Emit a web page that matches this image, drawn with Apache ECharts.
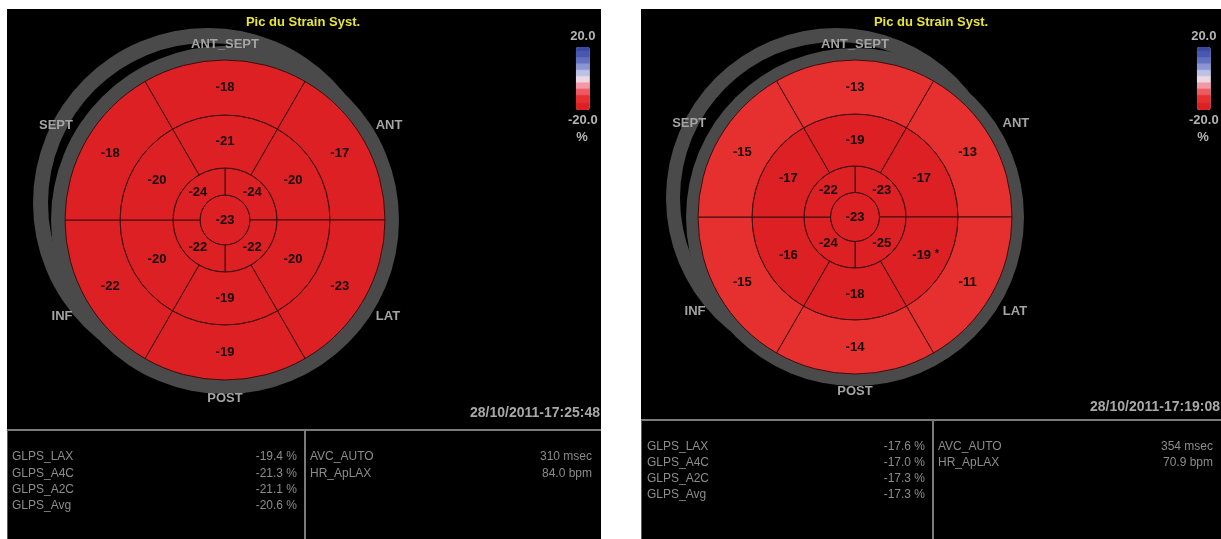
<!DOCTYPE html>
<html>
<head>
<meta charset="utf-8">
<script src="https://cdn.jsdelivr.net/npm/echarts@6/dist/echarts.min.js"></script>
<style>
  html, body { margin: 0; padding: 0; background: #fff; }
  #chart { width: 1221px; height: 539px; }
</style>
</head>
<body>
<div id="chart"></div>
<script>
// bull's eye rings: apex, apical, mid, basal (radius axis units)
var ringRadii = [0, 25, 52, 105, 160];
var ringSegments = [1, 4, 6, 6];
var ringFirstCenter = [90, 45, 90, 90];   // angle of first segment centre, then clockwise

var wallNames = ['ANT_SEPT', 'ANT', 'LAT', 'POST', 'INF', 'SEPT'];

// left exam, 28/10/2011-17:25:48
var leftApex = [-23];
var leftApical = [-24, -22, -22, -24];          // upper-right, lower-right, lower-left, upper-left
var leftMid = [-21, -20, -20, -19, -20, -20];   // ANT_SEPT, ANT, LAT, POST, INF, SEPT
var leftBasal = [-18, -17, -23, -19, -22, -18];

// right exam, 28/10/2011-17:19:08
var rightApex = [-23];
var rightApical = [-23, -25, -24, -22];
var rightMid = [-19, -17, -19, -18, -16, -17];
var rightBasal = [-13, -13, -11, -14, -15, -15];
var rightFlagged = [[2, 2]];                    // [ring, segment] shown with "*"

var glpsNames = ['GLPS_LAX', 'GLPS_A4C', 'GLPS_A2C', 'GLPS_Avg'];
var leftGlps = ['-19.4 %', '-21.3 %', '-21.1 %', '-20.6 %'];
var rightGlps = ['-17.6 %', '-17.0 %', '-17.3 %', '-17.3 %'];
var timingNames = ['AVC_AUTO', 'HR_ApLAX'];
var leftTiming = ['310 msec', '84.0 bpm'];
var rightTiming = ['354 msec', '70.9 bpm'];
var leftStamp = '28/10/2011-17:25:48';
var rightStamp = '28/10/2011-17:19:08';

// stepped colour scale, -20 .. 20 : [from value, colour]
var scaleSteps = [[-20, '#dd2024'], [-15, '#e6302f'], [-10, '#ee5a62'], [-6, '#f398a4'],
                  [-2, '#ecd8e4'], [2, '#bcc2e6'], [6, '#8c96d4'], [10, '#6270c0'],
                  [14, '#4858b0'], [18, '#3848a4']];
var scaleColors = [];
for (var v = -20; v <= 20; v++) {
    var col = scaleSteps[0][1];
    scaleSteps.forEach(function (s) { if (v >= s[0]) col = s[1]; });
    scaleColors.push(col);
}

var FONT = '"Liberation Sans", Arial, sans-serif';

function buildData(apex, apical, mid, basal, flagged) {
    var rows = [];
    [apex, apical, mid, basal].forEach(function (vals, ring) {
        vals.forEach(function (v, seg) {
            var flag = (flagged || []).some(function (f) { return f[0] === ring && f[1] === seg; }) ? 1 : 0;
            rows.push([ring, seg, v, flag]);
        });
    });
    return rows;
}

function renderSegment(params, api) {
    var ring = api.value(0), seg = api.value(1), val = api.value(2), flag = api.value(3);
    var n = ringSegments[ring];
    var span = 360 / n;
    var mid = ringFirstCenter[ring] - seg * span;
    var c = api.coord([0, 0]);
    var pIn = api.coord([ringRadii[ring], mid]);
    var pOut = api.coord([ringRadii[ring + 1], mid]);
    var r0 = Math.hypot(pIn[0] - c[0], pIn[1] - c[1]);
    var r = Math.hypot(pOut[0] - c[0], pOut[1] - c[1]);
    var lab = api.coord([ring === 0 ? 0 : (ringRadii[ring] + ringRadii[ring + 1]) / 2, mid]);
    var lineStyle = {fill: api.visual('color'), stroke: '#3c0c0c', lineWidth: 1};
    var shape;
    if (n === 1) {
        shape = {type: 'circle', shape: {cx: c[0], cy: c[1], r: r}, style: lineStyle};
    } else {
        var a0 = mid - span / 2, a1 = mid + span / 2;
        shape = {
            type: 'sector',
            shape: {cx: c[0], cy: c[1], r0: r0, r: r,
                startAngle: -a1 * Math.PI / 180, endAngle: -a0 * Math.PI / 180, clockwise: true},
            style: lineStyle
        };
    }
    var children = [shape, {
        type: 'text', x: lab[0], y: lab[1], z2: 10,
        style: {text: String(val), fill: '#160606', font: 'bold 13px ' + FONT,
            textAlign: 'center', textVerticalAlign: 'middle'}
    }];
    if (flag) {
        children.push({
            type: 'text', x: lab[0] + 13, y: lab[1] - 2, z2: 10,
            style: {text: '*', fill: '#160606', font: 'bold 11px ' + FONT,
                textAlign: 'left', textVerticalAlign: 'middle'}
        });
    }
    return {type: 'group', children: children};
}

function ring(center, radius) {
    return {
        type: 'pie', center: center, radius: radius, silent: true, z: 1,
        label: {show: false}, labelLine: {show: false},
        itemStyle: {color: '#4a4a4a', borderWidth: 0},
        data: [1]
    };
}

function txt(x, y, s, font, fill, align) {
    return {type: 'text', x: x, y: y, z: 50,
        style: {text: s, font: font, fill: fill, textAlign: align || 'left', textVerticalAlign: 'middle'}};
}

// panel layouts
var panels = [
    {cx: 225, cy: 220, r: 160, box: [7, 9, 594, 530], sep: 430, col: 305, rows: [457, 474, 490, 506],
     nameX: 12, valX: 297, tName: 310, tVal: 592, glps: leftGlps, timing: leftTiming,
     stamp: leftStamp, stampX: 600, stampY: 413, titleX: 303, barX: 583},
    {cx: 855, cy: 217, r: 157, box: [641, 9, 580, 530], sep: 420, col: 933, rows: [447, 463, 479, 495],
     nameX: 647, valX: 925, tName: 938, tVal: 1213, glps: rightGlps, timing: rightTiming,
     stamp: rightStamp, stampX: 1220, stampY: 407, titleX: 931, barX: 1204}
];
// wall label offsets from the centre, for a 160 px disk
var wallOffsets = [[0, -176], [164, -95], [163, 96], [0, 178], [-163, 96], [-169, -95]];

var graphics = [];
panels.forEach(function (p) {
    graphics.push({type: 'rect', z: -10, shape: {x: p.box[0], y: p.box[1], width: p.box[2], height: p.box[3]},
        style: {fill: '#000'}});
    graphics.push({type: 'line', z: 40, shape: {x1: p.box[0], y1: p.sep, x2: p.box[0] + p.box[2], y2: p.sep},
        style: {stroke: '#7a7a7a', lineWidth: 2}});
    graphics.push({type: 'line', z: 40, shape: {x1: p.col, y1: p.sep, x2: p.col, y2: 539},
        style: {stroke: '#7a7a7a', lineWidth: 2}});
    graphics.push({type: 'line', z: 40, shape: {x1: p.box[0] + 0.5, y1: p.sep, x2: p.box[0] + 0.5, y2: 539},
        style: {stroke: '#5a5a5a', lineWidth: 1}});
    graphics.push(txt(p.titleX, 22, 'Pic du Strain Syst.', 'bold 13px ' + FONT, '#e8e43c', 'center'));
    var k = p.r / 160;
    wallNames.forEach(function (w, i) {
        graphics.push(txt(p.cx + wallOffsets[i][0] * k, p.cy + wallOffsets[i][1] * k, w,
            'bold 13px ' + FONT, '#a4a4a4', 'center'));
    });
    graphics.push(txt(p.barX - 1, 137, '%', 'bold 13px ' + FONT, '#b4b4b4', 'center'));
    graphics.push(txt(p.stampX, p.stampY, p.stamp, 'bold 14px ' + FONT, '#a8a8a8', 'right'));
    glpsNames.forEach(function (nm, i) {
        graphics.push(txt(p.nameX, p.rows[i], nm, '12px ' + FONT, '#8c8c8c'));
        graphics.push(txt(p.valX, p.rows[i], p.glps[i], '12px ' + FONT, '#8c8c8c', 'right'));
    });
    timingNames.forEach(function (nm, i) {
        graphics.push(txt(p.tName, p.rows[i], nm, '12px ' + FONT, '#8c8c8c'));
        graphics.push(txt(p.tVal, p.rows[i], p.timing[i], '12px ' + FONT, '#8c8c8c', 'right'));
    });
});

function scaleBar(seriesIndex, barX) {
    return {
        type: 'continuous', seriesIndex: seriesIndex, dimension: 2,
        min: -20, max: 20, calculable: false, orient: 'vertical',
        itemWidth: 14, itemHeight: 63, left: barX - 30, top: 15,
        text: ['20.0', '-20.0'], textGap: 4,
        textStyle: {color: '#b4b4b4', fontWeight: 'bold', fontSize: 13, fontFamily: FONT},
        inRange: {color: scaleColors}
    };
}

var chart = echarts.init(document.getElementById('chart'));
chart.setOption({
    animation: false,
    backgroundColor: '#fff',
    graphic: {elements: graphics},
    polar: [
        {center: [panels[0].cx, panels[0].cy], radius: [0, panels[0].r]},
        {center: [panels[1].cx, panels[1].cy], radius: [0, panels[1].r]}
    ],
    angleAxis: [
        {polarIndex: 0, type: 'value', min: 0, max: 360, startAngle: 0, clockwise: false, show: false},
        {polarIndex: 1, type: 'value', min: 0, max: 360, startAngle: 0, clockwise: false, show: false}
    ],
    radiusAxis: [
        {polarIndex: 0, type: 'value', min: 0, max: 160, show: false},
        {polarIndex: 1, type: 'value', min: 0, max: 160, show: false}
    ],
    visualMap: [scaleBar(4, panels[0].barX), scaleBar(5, panels[1].barX)],
    series: [
        ring([208, 203], [160, 175]),
        ring([225, 220], [159, 174]),
        ring([836, 198], [156, 170]),
        ring([855, 217], [156, 169]),
        {type: 'custom', coordinateSystem: 'polar', polarIndex: 0, z: 3,
         renderItem: renderSegment, data: buildData(leftApex, leftApical, leftMid, leftBasal)},
        {type: 'custom', coordinateSystem: 'polar', polarIndex: 1, z: 3,
         renderItem: renderSegment, data: buildData(rightApex, rightApical, rightMid, rightBasal, rightFlagged)}
    ]
});
</script>
</body>
</html>
